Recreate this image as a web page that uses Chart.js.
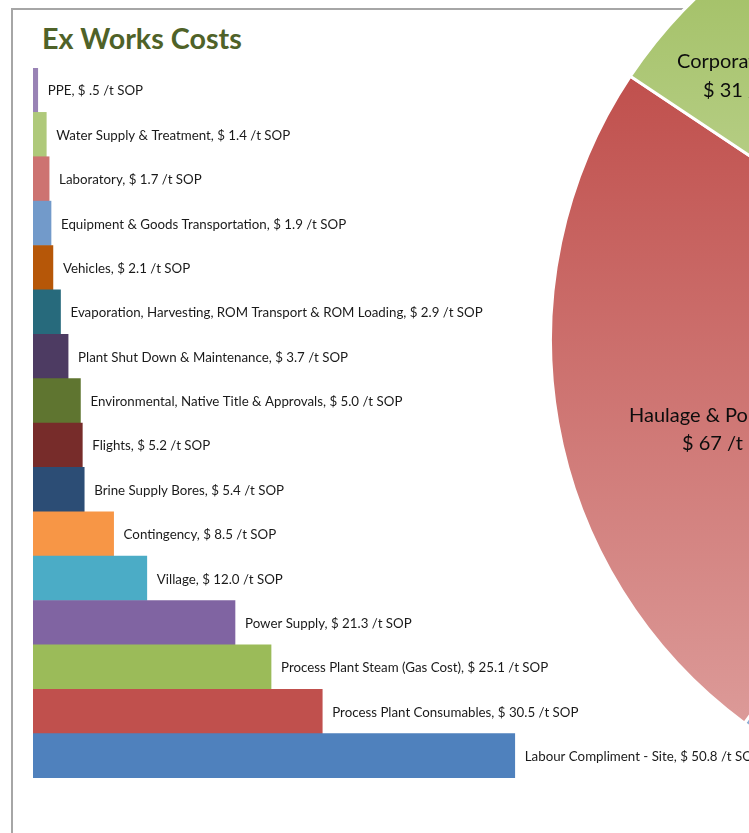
<!DOCTYPE html>
<html>
<head>
<meta charset="utf-8">
<script src="https://cdn.jsdelivr.net/npm/chart.js@4/dist/chart.umd.min.js"></script>
<style>
  html, body { margin: 0; padding: 0; width: 749px; height: 833px; overflow: hidden; background: #fff; }
  #frame { position: absolute; left: 11px; top: 8px; width: 1000px; height: 1000px; border-left: 2px solid #a6a6a6; border-top: 2px solid #a6a6a6; }
  #title { position: absolute; left: 42px; top: 21px; font: bold 28.7px Lato, sans-serif; color: #4f6228; }
  #bars { position: absolute; left: 33px; top: 68px; }
  #pie { position: absolute; left: 549px; top: -137px; }
</style>
</head>
<body>
<div id="frame"></div>
<div id="title">Ex Works Costs</div>
<canvas id="bars" width="716" height="710"></canvas>
<canvas id="pie" width="954" height="954"></canvas>
<script>
// bar chart data, top to bottom
const categories = [
    'PPE', 'Water Supply & Treatment', 'Laboratory', 'Equipment & Goods Transportation', 'Vehicles',
    'Evaporation, Harvesting, ROM Transport & ROM Loading', 'Plant Shut Down & Maintenance',
    'Environmental, Native Title & Approvals', 'Flights', 'Brine Supply Bores', 'Contingency', 'Village',
    'Power Supply', 'Process Plant Steam (Gas Cost)', 'Process Plant Consumables', 'Labour Compliment - Site'
];
const costs = [0.5, 1.4, 1.7, 1.9, 2.1, 2.9, 3.7, 5.0, 5.2, 5.4, 8.5, 12.0, 21.3, 25.1, 30.5, 50.8];
const barColors = [
    '#9983b5', '#afc97a', '#cd7371', '#729aca', '#b65708', '#276a7c', '#4d3b62', '#5f7530',
    '#772c2a', '#2c4d75', '#f79646', '#4bacc6', '#8064a2', '#9bbb59', '#c0504d', '#4f81bd'
];

// pie chart data
const pieCategories = ['Ex Works', 'Haulage & Port', 'Corporate'];
const pieValues = [178, 67, 31];
const pieColors = [['#4f81bd', '#95b3d7'], ['#c0504d', '#dc9a98'], ['#9bbb59', '#c6d99f']];
const pieLabelLines = [[], ['Haulage & Port,', '$ 67 /t SOP'], ['Corporate,', '$ 31 /t SOP']];

const fmtCost = v => v.toFixed(1).replace(/^0\./, '.');

const barLabels = {
    id: 'barLabels',
    afterDatasetsDraw(chart) {
        const ctx = chart.ctx;
        ctx.save();
        ctx.font = '13.3px Lato, sans-serif';
        ctx.fillStyle = '#1a1a1a';
        ctx.textBaseline = 'middle';
        chart.getDatasetMeta(0).data.forEach((bar, i) => {
            ctx.fillText(`${categories[i]}, $ ${fmtCost(costs[i])} /t SOP`, bar.x + 10, bar.y + 1);
        });
        ctx.restore();
    }
};

new Chart(document.getElementById('bars'), {
    type: 'bar',
    data: { labels: categories, datasets: [{ data: costs, backgroundColor: barColors, borderWidth: 0, barPercentage: 1, categoryPercentage: 1 }] },
    options: {
        indexAxis: 'y', responsive: false, animation: false,
        layout: { padding: 0 },
        scales: { x: { display: false, min: 0, max: 75.5 }, y: { display: false } },
        plugins: { legend: { display: false }, tooltip: { enabled: false } }
    },
    plugins: [barLabels]
});

// vertical gradient per slice, light at the bottom
const sliceGradients = {
    id: 'sliceGradients',
    beforeDatasetsDraw(chart) {
        const ctx = chart.ctx;
        chart.getDatasetMeta(0).data.forEach((arc, i) => {
            let top = arc.y, bottom = arc.y;
            for (let k = 0; k <= 60; k++) {
                const a = arc.startAngle + (arc.endAngle - arc.startAngle) * k / 60;
                const y = arc.y + arc.outerRadius * Math.sin(a);
                top = Math.min(top, y); bottom = Math.max(bottom, y);
            }
            const g = ctx.createLinearGradient(0, top, 0, bottom);
            g.addColorStop(0, pieColors[i][0]);
            g.addColorStop(1, pieColors[i][1]);
            arc.options.backgroundColor = g;
        });
    },
    afterDatasetsDraw(chart) {
        const ctx = chart.ctx;
        const arc0 = chart.getDatasetMeta(0).data[0];
        const cx = arc0.x, cy = arc0.y;
        const spots = [null, [[-397, 76], [-344, 104]], [[-349, -278], [-323, -249]]];
        ctx.save();
        ctx.font = '20px Lato, sans-serif';
        ctx.fillStyle = '#0d0d0d';
        ctx.textBaseline = 'middle';
        pieLabelLines.forEach((lines, i) => {
            lines.forEach((t, j) => ctx.fillText(t, cx + spots[i][j][0], cy + spots[i][j][1]));
        });
        ctx.restore();
    }
};

const pieTotal = pieValues.reduce((a, b) => a + b, 0);
// turn the pie so the middle of the Haulage slice sits at 170 degrees
const pieRotation = 260 - (pieValues[0] + pieValues[1] / 2) / pieTotal * 360;

new Chart(document.getElementById('pie'), {
    type: 'pie',
    data: { labels: pieCategories, datasets: [{ data: pieValues, backgroundColor: pieColors.map(c => c[0]), borderColor: '#ffffff', borderWidth: 3 }] },
    options: {
        responsive: false, animation: false, rotation: pieRotation,
        layout: { padding: 0 },
        plugins: { legend: { display: false }, tooltip: { enabled: false } }
    },
    plugins: [sliceGradients]
});
</script>
</body>
</html>
